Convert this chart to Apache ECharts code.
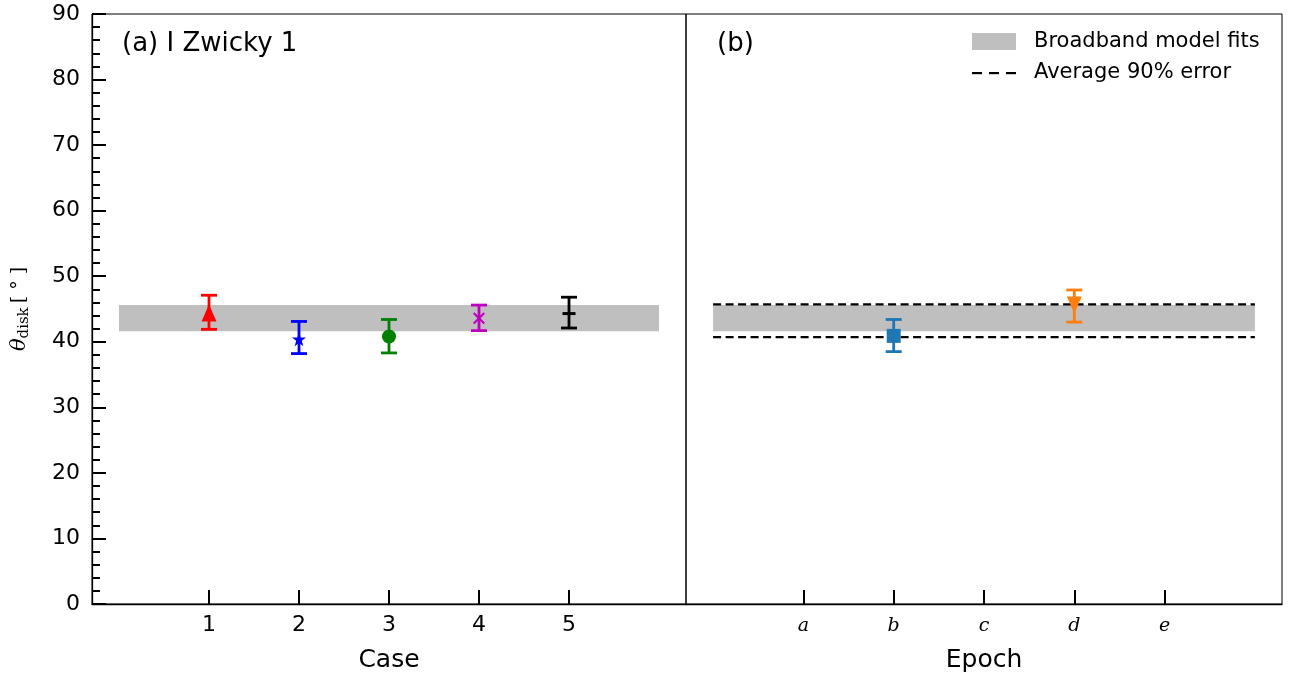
<!DOCTYPE html>
<html>
<head>
<meta charset="utf-8">
<script src="https://cdn.jsdelivr.net/npm/echarts@6/dist/echarts.min.js"></script>
<style>
html,body{margin:0;padding:0;background:#fff;}
#c{width:1289px;height:681px;}
</style>
</head>
<body>
<div id="c"></div>
<script>
// ---- data ----
const caseX = [1, 2, 3, 4, 5];
const caseVal = [44.4, 40.4, 40.8, 43.6, 44.3];
const caseLow = [41.9, 38.2, 38.3, 41.7, 42.1];
const caseHigh = [47.1, 43.1, 43.4, 45.6, 46.8];
const caseColors = ['#ff0000', '#0000ff', '#008000', '#c000c0', '#000000'];
const epochLabels = ['a', 'b', 'c', 'd', 'e'];
const epochX = [2, 4];
const epochVal = [40.9, 45.6];
const epochLow = [38.5, 43.0];
const epochHigh = [43.4, 47.9];
const epochColors = ['#1f77b4', '#ff7f0e'];
const bandRange = [41.6, 45.6];
const bandX = [0, 6];
const avgErr = [40.7, 45.7];
const legendNames = ['Broadband model fits', 'Average 90% error'];

const starPath = 'path://M0,-10 L2.35,-3.24 L9.51,-3.09 L3.8,1.24 L5.88,8.09 L0,4 L-5.88,8.09 L-3.8,1.24 L-9.51,-3.09 L-2.35,-3.24 Z';
const xPath = 'path://M-10,-7.5 L-7.5,-10 L0,-2.5 L7.5,-10 L10,-7.5 L2.5,0 L10,7.5 L7.5,10 L0,2.5 L-7.5,10 L-10,7.5 L-2.5,0 Z';
const dashPath = 'path://M-10,-1.5 L10,-1.5 L10,1.5 L-10,1.5 Z';
const caseSymbols = ['triangle', starPath, 'circle', xPath, dashPath];
const caseSizes = [[15, 17], 14, 14, 12, [13, 3]];

const font = 'DejaVu Sans';

function errSeries(xIdx, xs, lows, highs, colors) {
  return {
    type: 'custom', xAxisIndex: xIdx, yAxisIndex: xIdx, z: 5,
    data: xs.map((x, i) => [x, lows[i], highs[i], i]),
    renderItem: function (params, api) {
      const x = api.value(0), lo = api.value(1), hi = api.value(2), i = api.value(3);
      const p1 = api.coord([x, hi]), p2 = api.coord([x, lo]);
      const c = colors[i];
      const w = 8;
      const st = {stroke: c, lineWidth: 2.8, fill: null};
      return {type: 'group', children: [
        {type: 'line', shape: {x1: p1[0], y1: p1[1], x2: p2[0], y2: p2[1]}, style: st},
        {type: 'line', shape: {x1: p1[0]-w, y1: p1[1], x2: p1[0]+w, y2: p1[1]}, style: st},
        {type: 'line', shape: {x1: p2[0]-w, y1: p2[1], x2: p2[0]+w, y2: p2[1]}, style: st}
      ]};
    }
  };
}

function bandSeries(idx) {
  return {
    type: 'custom', xAxisIndex: idx, yAxisIndex: idx, z: 1,
    data: [[bandX[0], bandRange[0], bandX[1], bandRange[1]]],
    renderItem: function (params, api) {
      const a = api.coord([api.value(0), api.value(3)]);
      const b = api.coord([api.value(2), api.value(1)]);
      return {type: 'rect', shape: {x: a[0], y: a[1], width: b[0]-a[0], height: b[1]-a[1]}, style: {fill: '#bfbfbf'}};
    }
  };
}

const series = [];
series.push(bandSeries(0));
series.push(bandSeries(1));
series.push(errSeries(0, caseX, caseLow, caseHigh, caseColors));
series.push(errSeries(1, epochX, epochLow, epochHigh, epochColors));
caseX.forEach((x, i) => {
  series.push({type: 'scatter', xAxisIndex: 0, yAxisIndex: 0, z: 6, symbol: caseSymbols[i], symbolSize: caseSizes[i],
    itemStyle: {color: caseColors[i], opacity: 1}, data: [[x, caseVal[i]]]});
});
const epochSymbols = ['rect', 'triangle'];
epochX.forEach((x, i) => {
  series.push({type: 'scatter', xAxisIndex: 1, yAxisIndex: 1, z: 6, symbol: epochSymbols[i],
    symbolSize: i === 0 ? 14 : [15, 17], symbolRotate: i === 1 ? 180 : 0,
    itemStyle: {color: epochColors[i], opacity: 1}, data: [[x, epochVal[i]]]});
});
avgErr.forEach(v => {
  series.push({type: 'line', xAxisIndex: 1, yAxisIndex: 1, z: 3, symbol: 'none',
    lineStyle: {color: '#000', width: 2.2, type: [8, 4.5]},
    data: [[bandX[0], v], [bandX[1], v]]});
});

const tickLabelStyle = {color: '#000', fontFamily: font, fontSize: 22};
const nameStyle = {color: '#000', fontFamily: font, fontSize: 25};

const option = {
  animation: false,
  backgroundColor: '#fff',
  grid: [
    {left: 92, top: 14, width: 594, height: 590, show: true, borderColor: '#000', borderWidth: 1, backgroundColor: 'transparent'},
    {left: 686, top: 14, width: 596, height: 590, show: true, borderColor: '#000', borderWidth: 1, backgroundColor: 'transparent'}
  ],
  xAxis: [
    {type: 'value', gridIndex: 0, min: -0.3, max: 6.3,
      name: 'Case', nameLocation: 'middle', nameGap: 44, nameTextStyle: nameStyle,
      axisLine: {show: true, onZero: false, lineStyle: {color: '#000', width: 1.3}},
      axisTick: {show: true, inside: true, length: 14, customValues: caseX, lineStyle: {color: '#000', width: 2}},
      axisLabel: Object.assign({customValues: caseX, margin: 10}, tickLabelStyle),
      splitLine: {show: false}},
    {type: 'value', gridIndex: 1, min: -0.3, max: 6.3,
      name: 'Epoch', nameLocation: 'middle', nameGap: 44, nameTextStyle: nameStyle,
      axisLine: {show: true, onZero: false, lineStyle: {color: '#000', width: 1.3}},
      axisTick: {show: true, inside: true, length: 14, customValues: caseX, lineStyle: {color: '#000', width: 2}},
      axisLabel: {customValues: caseX, margin: 13, color: '#000', fontFamily: 'DejaVu Serif', fontStyle: 'italic', fontSize: 19,
        formatter: v => epochLabels[Math.round(v) - 1] || ''},
      splitLine: {show: false}}
  ],
  yAxis: [
    {type: 'value', gridIndex: 0, min: 0, max: 90, interval: 10,
      name: '{t|θ}{s|disk}{b|[ ° ]}', nameLocation: 'middle', nameGap: 60, nameRotate: 90,
      nameTextStyle: {rich: {
        t: {fontFamily: 'DejaVu Serif', fontStyle: 'italic', fontSize: 21, color: '#000'},
        s: {fontFamily: 'DejaVu Serif', fontSize: 15, color: '#000', padding: [10, 4, 0, 0]},
        b: {fontFamily: 'DejaVu Serif', fontSize: 19, color: '#000'}
      }},
      axisLine: {show: true, onZero: false, lineStyle: {color: '#000', width: 1.3}},
      axisTick: {show: true, inside: true, length: 14, lineStyle: {color: '#000', width: 2}},
      minorTick: {show: true, splitNumber: 5, length: 8, lineStyle: {color: '#000', width: 2}},
      axisLabel: Object.assign({margin: 12}, tickLabelStyle),
      splitLine: {show: false}, minorSplitLine: {show: false}},
    {type: 'value', gridIndex: 1, min: 0, max: 90, interval: 10, show: false, splitLine: {show: false}}
  ],
  graphic: [
    {type: 'text', x: 122, y: 44, style: {text: '(a) I Zwicky 1', fill: '#000', font: '26px "DejaVu Sans"', verticalAlign: 'middle'}},
    {type: 'text', x: 717, y: 44, style: {text: '(b)', fill: '#000', font: '26px "DejaVu Sans"', verticalAlign: 'middle'}},
    {type: 'rect', shape: {x: 972, y: 33, width: 44, height: 17}, style: {fill: '#bfbfbf'}},
    {type: 'rect', shape: {x: 972, y: 72, width: 10, height: 2.2}, style: {fill: '#000'}},
    {type: 'rect', shape: {x: 989, y: 72, width: 10, height: 2.2}, style: {fill: '#000'}},
    {type: 'rect', shape: {x: 1006, y: 72, width: 10, height: 2.2}, style: {fill: '#000'}},
    {type: 'text', x: 1034, y: 42, style: {text: legendNames[0], fill: '#000', font: '21px "DejaVu Sans"', verticalAlign: 'middle'}},
    {type: 'text', x: 1034, y: 73, style: {text: legendNames[1], fill: '#000', font: '21px "DejaVu Sans"', verticalAlign: 'middle'}}
  ],
  series: series
};

const chart = echarts.init(document.getElementById('c'), null, {renderer: 'canvas'});
chart.setOption(option);
</script>
</body>
</html>
